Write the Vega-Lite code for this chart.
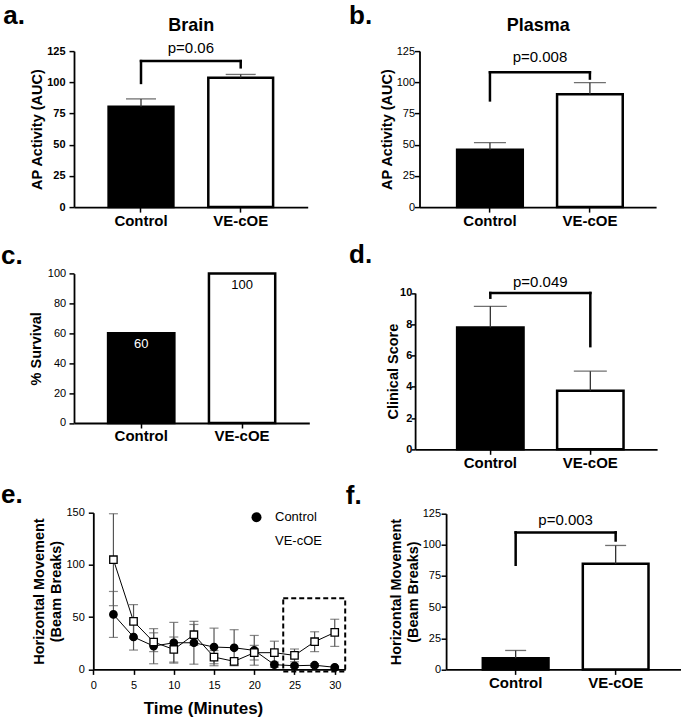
{
  "$schema": "https://vega.github.io/schema/vega-lite/v6.json",
  "usermeta": {"embedOptions": {"actions": false}},
  "background": "white",
  "padding": {"left": 1, "top": 3.1, "right": 0, "bottom": 0},
  "columns": 2,
  "spacing": {"row": 63.3, "column": 69.1},
  "align": "each",
  "bounds": "flush",
  "resolve": {
    "scale": {"shape": "independent", "fill": "independent", "color": "independent"},
    "legend": {"shape": "independent", "fill": "independent", "color": "independent"}
  },
  "datasets": {
    "a": [
      {"group": "Control", "mean": 80.4, "hi": 86.7, "leg": 99.5, "top": 117},
      {"group": "VE-cOE", "mean": 103.6, "hi": 106.3, "leg": 112, "top": 117}
    ],
    "aP": [{"from": "Control", "to": "VE-cOE", "top": 117, "ty": 127.5, "label": "p=0.06"}],
    "b": [
      {"group": "Control", "mean": 46, "hi": 51.6, "leg": 85.5, "top": 108},
      {"group": "VE-cOE", "mean": 90.5, "hi": 99.7, "leg": 103, "top": 108}
    ],
    "bP": [{"from": "Control", "to": "VE-cOE", "top": 108, "ty": 120, "label": "p=0.008"}],
    "c": [
      {"group": "Control", "survival": 60},
      {"group": "VE-cOE", "survival": 100}
    ],
    "d": [
      {"group": "Control", "mean": 7.8, "hi": 9.15, "leg": 9.7, "top": 10},
      {"group": "VE-cOE", "mean": 3.75, "hi": 5.0, "leg": 6.6, "top": 10}
    ],
    "dP": [{"from": "Control", "to": "VE-cOE", "top": 10, "ty": 10.7, "label": "p=0.049"}],
    "f": [
      {"group": "Control", "mean": 9, "hi": 15.2, "leg": 84, "top": 110},
      {"group": "VE-cOE", "mean": 84.8, "hi": 99.5, "leg": 103.5, "top": 110}
    ],
    "fP": [{"from": "Control", "to": "VE-cOE", "top": 110, "ty": 119.6, "label": "p=0.003"}],
    "e": [
      {"time": 2.5, "series": "Control", "mean": 52.6, "lo": 30.6, "hi": 74.6},
      {"time": 5, "series": "Control", "mean": 31, "lo": 18.5, "hi": 43.5},
      {"time": 7.5, "series": "Control", "mean": 22.3, "lo": 5.4, "hi": 39},
      {"time": 10, "series": "Control", "mean": 25.5, "lo": 6, "hi": 45},
      {"time": 12.5, "series": "Control", "mean": 25.5, "lo": 5, "hi": 46},
      {"time": 15, "series": "Control", "mean": 21.4, "lo": 3.5, "hi": 39.5},
      {"time": 17.5, "series": "Control", "mean": 20.7, "lo": 3.5, "hi": 38},
      {"time": 20, "series": "Control", "mean": 18.2, "lo": 4, "hi": 32.5},
      {"time": 22.5, "series": "Control", "mean": 4.5, "lo": 2, "hi": 7},
      {"time": 25, "series": "Control", "mean": 3.5, "lo": 2, "hi": 5},
      {"time": 27.5, "series": "Control", "mean": 4, "lo": 2.5, "hi": 5.5},
      {"time": 30, "series": "Control", "mean": 2, "lo": 1, "hi": 3},
      {"time": 2.5, "series": "VE-cOE", "mean": 105, "lo": 61, "hi": 149},
      {"time": 5, "series": "VE-cOE", "mean": 46, "lo": 30, "hi": 62},
      {"time": 7.5, "series": "VE-cOE", "mean": 26.2, "lo": 17, "hi": 35},
      {"time": 10, "series": "VE-cOE", "mean": 19.1, "lo": 7, "hi": 31},
      {"time": 12.5, "series": "VE-cOE", "mean": 33.2, "lo": 23, "hi": 43},
      {"time": 15, "series": "VE-cOE", "mean": 11.8, "lo": 5.4, "hi": 18},
      {"time": 17.5, "series": "VE-cOE", "mean": 7.7, "lo": 5.5, "hi": 10},
      {"time": 20, "series": "VE-cOE", "mean": 16, "lo": 9, "hi": 23},
      {"time": 22.5, "series": "VE-cOE", "mean": 16, "lo": 5, "hi": 27},
      {"time": 25, "series": "VE-cOE", "mean": 13.4, "lo": 7.3, "hi": 19.5},
      {"time": 27.5, "series": "VE-cOE", "mean": 26.5, "lo": 17, "hi": 36},
      {"time": 30, "series": "VE-cOE", "mean": 35.4, "lo": 22, "hi": 48}
    ],
    "eBox": [{"x1": 23.6, "x2": 31.3, "y1": -2, "y2": 68}]
  },
  "concat": [
    {
      "title": {"text": "a.", "dx": -70.7, "dy": 16.7},
      "width": 233.7,
      "height": 156,
      "layer": [
        {
          "data": {"name": "a"},
          "mark": {"type": "bar", "stroke": "#000", "strokeWidth": 2.5},
          "encoding": {
            "x": {"field": "group", "type": "nominal", "scale": {"paddingInner": 0.35, "paddingOuter": 0.347}, "axis": {"title": null, "labelFontSize": 15, "labelFontWeight": "bold", "labelAngle": 0, "labelPadding": 1}},
            "y": {"field": "mean", "type": "quantitative", "scale": {"domain": [0, 125], "nice": false}, "axis": {"values": [0, 25, 50, 75, 100, 125], "tickCount": 20, "title": "AP Activity (AUC)", "labelFontWeight": "bold", "labelPadding": 4, "titlePadding": 2}},
            "fill": {"field": "group", "type": "nominal", "scale": {"domain": ["Control", "VE-cOE"], "range": ["#000", "#fff"]}, "legend": null}
          }
        },
        {
          "data": {"name": "a"},
          "mark": {"type": "rule", "color": "#333", "strokeWidth": 1.3},
          "encoding": {"x": {"field": "group", "type": "nominal", "axis": null}, "y": {"field": "mean", "type": "quantitative"}, "y2": {"field": "hi"}}
        },
        {
          "data": {"name": "a"},
          "mark": {"type": "tick", "orient": "horizontal", "size": 30, "thickness": 1.3, "color": "#333"},
          "encoding": {"x": {"field": "group", "type": "nominal", "axis": null}, "y": {"field": "hi", "type": "quantitative"}}
        },
        {
          "data": {"name": "a"},
          "mark": {"type": "rule", "color": "#000", "strokeWidth": 2.5, "strokeCap": "square"},
          "encoding": {"x": {"field": "group", "type": "nominal", "axis": null}, "y": {"field": "leg", "type": "quantitative"}, "y2": {"field": "top"}}
        },
        {
          "data": {"name": "aP"},
          "mark": {"type": "rule", "color": "#000", "strokeWidth": 2.5, "strokeCap": "square"},
          "encoding": {"x": {"field": "from", "type": "nominal", "axis": null}, "x2": {"field": "to"}, "y": {"field": "top", "type": "quantitative"}}
        },
        {
          "data": {"name": "aP"},
          "mark": {"type": "text", "fontSize": 15, "baseline": "middle", "color": "#000"},
          "encoding": {
            "x": {"field": "from", "type": "nominal", "bandPosition": 1.269, "axis": {"orient": "top", "title": "Brain", "labels": false, "ticks": false, "domain": false, "titleFontSize": 18, "titlePadding": 16.5}},
            "y": {"field": "ty", "type": "quantitative"},
            "text": {"field": "label"}
          }
        }
      ],
      "resolve": {"axis": {"x": "independent"}}
    },
    {
      "title": {"text": "b.", "dx": -66, "dy": 16.7},
      "width": 241,
      "height": 156,
      "layer": [
        {
          "data": {"name": "b"},
          "mark": {"type": "bar", "stroke": "#000", "strokeWidth": 2.5},
          "encoding": {
            "x": {"field": "group", "type": "nominal", "scale": {"range": [4.4, 241], "paddingInner": 0.343, "paddingOuter": 0.355, "align": 0.53}, "axis": {"title": null, "labelFontSize": 15, "labelFontWeight": "bold", "labelAngle": 0, "labelPadding": 1}},
            "y": {"field": "mean", "type": "quantitative", "scale": {"domain": [0, 125], "nice": false}, "axis": {"values": [0, 25, 50, 75, 100, 125], "tickCount": 20, "title": "AP Activity (AUC)", "offset": -4.4, "labelPadding": 0, "titlePadding": 2}},
            "fill": {"field": "group", "type": "nominal", "scale": {"domain": ["Control", "VE-cOE"], "range": ["#000", "#fff"]}, "legend": null}
          }
        },
        {
          "data": {"name": "b"},
          "mark": {"type": "rule", "color": "#333", "strokeWidth": 1.3},
          "encoding": {"x": {"field": "group", "type": "nominal", "axis": null}, "y": {"field": "mean", "type": "quantitative"}, "y2": {"field": "hi"}}
        },
        {
          "data": {"name": "b"},
          "mark": {"type": "tick", "orient": "horizontal", "size": 32, "thickness": 1.3, "color": "#333"},
          "encoding": {"x": {"field": "group", "type": "nominal", "axis": null}, "y": {"field": "hi", "type": "quantitative"}}
        },
        {
          "data": {"name": "b"},
          "mark": {"type": "rule", "color": "#000", "strokeWidth": 2.5, "strokeCap": "square"},
          "encoding": {"x": {"field": "group", "type": "nominal", "axis": null}, "y": {"field": "leg", "type": "quantitative"}, "y2": {"field": "top"}}
        },
        {
          "data": {"name": "bP"},
          "mark": {"type": "rule", "color": "#000", "strokeWidth": 2.5, "strokeCap": "square"},
          "encoding": {"x": {"field": "from", "type": "nominal", "axis": null}, "x2": {"field": "to"}, "y": {"field": "top", "type": "quantitative"}}
        },
        {
          "data": {"name": "bP"},
          "mark": {"type": "text", "fontSize": 15, "baseline": "middle", "color": "#000"},
          "encoding": {
            "x": {"field": "from", "type": "nominal", "bandPosition": 1.261, "axis": {"orient": "top", "title": "Plasma", "labels": false, "ticks": false, "domain": false, "titleFontSize": 18, "titlePadding": 16.5}},
            "y": {"field": "ty", "type": "quantitative"},
            "text": {"field": "label"}
          }
        }
      ],
      "resolve": {"axis": {"x": "independent"}}
    },
    {
      "title": {"text": "c.", "dx": -73, "dy": 5},
      "width": 235.3,
      "height": 152.6,
      "layer": [
        {
          "data": {"name": "c"},
          "mark": {"type": "bar", "stroke": "#000", "strokeWidth": 2.5},
          "encoding": {
            "x": {"field": "group", "type": "nominal", "scale": {"paddingInner": 0.343, "paddingOuter": 0.338}, "axis": {"title": null, "labelFontSize": 15, "labelFontWeight": "bold", "labelAngle": 0, "labelPadding": 1}},
            "y": {"field": "survival", "type": "quantitative", "scale": {"domain": [0, 100], "nice": false, "range": [152.6, 3.2]}, "axis": {"values": [0, 20, 40, 60, 80, 100], "tickCount": 20, "title": "% Survival", "labelPadding": 3.4, "titlePadding": 4}},
            "fill": {"field": "group", "type": "nominal", "scale": {"domain": ["Control", "VE-cOE"], "range": ["#000", "#fff"]}, "legend": null}
          }
        },
        {
          "data": {"name": "c"},
          "mark": {"type": "text", "fontSize": 13, "baseline": "middle", "dy": 11},
          "encoding": {
            "x": {"field": "group", "type": "nominal"},
            "y": {"field": "survival", "type": "quantitative"},
            "text": {"field": "survival", "type": "quantitative"},
            "color": {"field": "group", "type": "nominal", "scale": {"domain": ["Control", "VE-cOE"], "range": ["#fff", "#000"]}, "legend": null}
          }
        }
      ]
    },
    {
      "title": {"text": "d.", "dx": -66, "dy": 1.5},
      "width": 242,
      "height": 178.9,
      "layer": [
        {
          "data": {"name": "d"},
          "mark": {"type": "bar", "stroke": "#000", "strokeWidth": 2.5},
          "encoding": {
            "x": {"field": "group", "type": "nominal", "scale": {"paddingInner": 0.336, "paddingOuter": 0.378, "align": 0.556}, "axis": {"title": null, "labelFontSize": 15, "labelFontWeight": "bold", "labelAngle": 0, "labelPadding": 1}},
            "y": {"field": "mean", "type": "quantitative", "scale": {"domain": [0, 10], "nice": false, "range": [178.9, 22.6]}, "axis": {"values": [0, 2, 4, 6, 8, 10], "tickCount": 20, "format": "d", "title": "Clinical Score", "labelFontWeight": "bold", "tickSize": 4, "labelPadding": -0.7, "titlePadding": -1.2}},
            "fill": {"field": "group", "type": "nominal", "scale": {"domain": ["Control", "VE-cOE"], "range": ["#000", "#fff"]}, "legend": null}
          }
        },
        {
          "data": {"name": "d"},
          "mark": {"type": "rule", "color": "#333", "strokeWidth": 1.3},
          "encoding": {"x": {"field": "group", "type": "nominal", "axis": null}, "y": {"field": "mean", "type": "quantitative"}, "y2": {"field": "hi"}}
        },
        {
          "data": {"name": "d"},
          "mark": {"type": "tick", "orient": "horizontal", "size": 33, "thickness": 1.3, "color": "#333"},
          "encoding": {"x": {"field": "group", "type": "nominal", "axis": null}, "y": {"field": "hi", "type": "quantitative"}}
        },
        {
          "data": {"name": "d"},
          "mark": {"type": "rule", "color": "#000", "strokeWidth": 2.5, "strokeCap": "square"},
          "encoding": {"x": {"field": "group", "type": "nominal", "axis": null}, "y": {"field": "leg", "type": "quantitative"}, "y2": {"field": "top"}}
        },
        {
          "data": {"name": "dP"},
          "mark": {"type": "rule", "color": "#000", "strokeWidth": 2.5, "strokeCap": "square"},
          "encoding": {"x": {"field": "from", "type": "nominal", "axis": null}, "x2": {"field": "to"}, "y": {"field": "top", "type": "quantitative"}}
        },
        {
          "data": {"name": "dP"},
          "mark": {"type": "text", "fontSize": 15, "baseline": "middle", "color": "#000"},
          "encoding": {
            "x": {"field": "from", "type": "nominal", "bandPosition": 1.253, "axis": null},
            "y": {"field": "ty", "type": "quantitative"},
            "text": {"field": "label"}
          }
        }
      ],
      "resolve": {"axis": {"x": "independent"}}
    },
    {
      "title": {"text": "e.", "dx": -73, "dy": 5},
      "width": 271.2,
      "height": 156.7,
      "layer": [
        {
          "data": {"name": "eBox"},
          "mark": {"type": "rect", "fillOpacity": 0, "stroke": "#000", "strokeWidth": 2, "strokeDash": [5, 3]},
          "encoding": {
            "x": {"field": "x1", "type": "quantitative"},
            "x2": {"field": "x2"},
            "y": {"field": "y1", "type": "quantitative"},
            "y2": {"field": "y2"}
          }
        },
        {
          "data": {"name": "e"},
          "mark": {"type": "rule", "color": "#555", "strokeWidth": 1.2},
          "encoding": {
            "x": {"field": "time", "type": "quantitative"},
            "y": {"field": "lo", "type": "quantitative"},
            "y2": {"field": "hi"}
          }
        },
        {
          "data": {"name": "e"},
          "mark": {"type": "tick", "orient": "horizontal", "size": 9, "thickness": 1.2, "color": "#555"},
          "encoding": {"x": {"field": "time", "type": "quantitative"}, "y": {"field": "lo", "type": "quantitative"}}
        },
        {
          "data": {"name": "e"},
          "mark": {"type": "tick", "orient": "horizontal", "size": 9, "thickness": 1.2, "color": "#555"},
          "encoding": {"x": {"field": "time", "type": "quantitative"}, "y": {"field": "hi", "type": "quantitative"}}
        },
        {
          "data": {"name": "e"},
          "mark": {"type": "line", "color": "#000", "strokeWidth": 1},
          "encoding": {
            "x": {"field": "time", "type": "quantitative"},
            "y": {"field": "mean", "type": "quantitative"},
            "detail": {"field": "series", "type": "nominal"}
          }
        },
        {
          "data": {"name": "e"},
          "mark": {"type": "point", "filled": false, "stroke": "#000", "strokeWidth": 1.3, "size": 55, "opacity": 1},
          "encoding": {
            "x": {"field": "time", "type": "quantitative", "scale": {"domain": [0, 31.3], "range": [19.3, 271.2], "nice": false, "zero": false}, "axis": {"values": [0, 5, 10, 15, 20, 25, 30], "tickCount": 20, "title": "Time (Minutes)", "titleFontSize": 17, "titleX": 129, "titlePadding": 10, "labelFlush": false, "labelPadding": 5}},
            "y": {"field": "mean", "type": "quantitative", "scale": {"domain": [0, 150], "nice": false}, "axis": {"values": [0, 50, 100, 150], "tickCount": 20, "title": ["Horizontal Movement", "(Beam Breaks)"], "titleLineHeight": 17, "offset": -19.3, "labelPadding": 4, "titlePadding": 2.3}},
            "shape": {"field": "series", "type": "nominal", "scale": {"domain": ["Control", "VE-cOE"], "range": ["circle", "square"]},
              "legend": {"title": null, "orient": "none", "legendX": 176, "legendY": -2, "direction": "vertical", "symbolSize": 100, "symbolStrokeColor": "#000", "symbolStrokeWidth": 1.3, "symbolOpacity": 1, "labelFontSize": 13, "labelColor": "#000", "labelOffset": 12, "rowPadding": 7,
                "encode": {"symbols": {"update": {
                  "shape": {"signal": "datum.value === 'Control' ? 'M-1.9,0H-1M1,0H1.9M1,0A1,1,0,1,1,-1,0A1,1,0,1,1,1,0Z' : 'M-1.9,0H1.9M-0.85,-0.85H0.85V0.85H-0.85Z'"},
                  "fill": {"signal": "datum.value === 'Control' ? '#000' : '#fff'"},
                  "stroke": {"value": "#000"},
                  "strokeWidth": {"value": 1.3},
                  "opacity": {"value": 1}
                }}}}},
            "fill": {"field": "series", "type": "nominal", "scale": {"domain": ["Control", "VE-cOE"], "range": ["#000", "#fff"]}, "legend": null}
          }
        }
      ]
    },
    {
      "title": {"text": "f.", "dx": -69.3, "dy": 5.5},
      "width": 265.7,
      "height": 156.7,
      "layer": [
        {
          "data": {"name": "f"},
          "mark": {"type": "bar", "stroke": "#000", "strokeWidth": 2.5},
          "encoding": {
            "x": {"field": "group", "type": "nominal", "scale": {"range": [31, 265.7], "paddingInner": 0.343, "paddingOuter": 0.345, "align": 0.532}, "axis": {"title": null, "labelFontSize": 15, "labelFontWeight": "bold", "labelAngle": 0, "labelPadding": 1}},
            "y": {"field": "mean", "type": "quantitative", "scale": {"domain": [0, 125], "nice": false, "range": [156.7, 1.0]}, "axis": {"values": [0, 25, 50, 75, 100, 125], "tickCount": 20, "title": ["Horizontal Movement", "(Beam Breaks)"], "titleLineHeight": 17, "offset": -31, "labelPadding": 0.6, "titlePadding": 1.4}},
            "fill": {"field": "group", "type": "nominal", "scale": {"domain": ["Control", "VE-cOE"], "range": ["#000", "#fff"]}, "legend": null}
          }
        },
        {
          "data": {"name": "f"},
          "mark": {"type": "rule", "color": "#333", "strokeWidth": 1.3},
          "encoding": {"x": {"field": "group", "type": "nominal", "axis": null}, "y": {"field": "mean", "type": "quantitative"}, "y2": {"field": "hi"}}
        },
        {
          "data": {"name": "f"},
          "mark": {"type": "tick", "orient": "horizontal", "size": 21, "thickness": 1.3, "color": "#333"},
          "encoding": {"x": {"field": "group", "type": "nominal", "axis": null}, "y": {"field": "hi", "type": "quantitative"}}
        },
        {
          "data": {"name": "f"},
          "mark": {"type": "rule", "color": "#000", "strokeWidth": 2.5, "strokeCap": "square"},
          "encoding": {"x": {"field": "group", "type": "nominal", "axis": null}, "y": {"field": "leg", "type": "quantitative"}, "y2": {"field": "top"}}
        },
        {
          "data": {"name": "fP"},
          "mark": {"type": "rule", "color": "#000", "strokeWidth": 2.5, "strokeCap": "square"},
          "encoding": {"x": {"field": "from", "type": "nominal", "axis": null}, "x2": {"field": "to"}, "y": {"field": "top", "type": "quantitative"}}
        },
        {
          "data": {"name": "fP"},
          "mark": {"type": "text", "fontSize": 15, "baseline": "middle", "color": "#000"},
          "encoding": {
            "x": {"field": "from", "type": "nominal", "bandPosition": 1.261, "axis": null},
            "y": {"field": "ty", "type": "quantitative"},
            "text": {"field": "label"}
          }
        }
      ],
      "resolve": {"axis": {"x": "independent"}}
    }
  ],
  "config": {
    "font": "Liberation Sans",
    "view": {"stroke": null},
    "axis": {"grid": false, "domainColor": "#000", "domainWidth": 1.8, "tickColor": "#000", "tickWidth": 1.5, "tickSize": 5, "labelColor": "#000", "labelFontSize": 11, "titleColor": "#000", "titleFontSize": 14.5, "titleFontWeight": "bold", "labelPadding": 3, "labelOverlap": false},
    "title": {"color": "#000", "fontSize": 26, "fontWeight": "bold", "anchor": "start", "frame": "group", "offset": 0}
  }
}
